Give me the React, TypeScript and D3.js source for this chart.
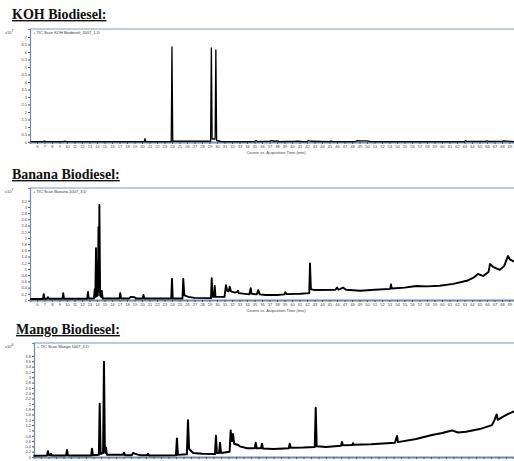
import { useRef, useEffect } from 'react';
import * as d3 from 'd3';

const W = 514;
const H = 461;

// retention time (min), counts (x10^7 / x10^6)
const kohTrace: [number, number][] = [
  [5.1, 0.02], [6.8, 0.02], [7.0, 0.06], [7.2, 0.02], [9.5, 0.02], [9.7, 0.06], [9.9, 0.02],
  [20.3, 0.02], [20.4, 0.22], [20.5, 0.02], [23.9, 0.02], [24.0, 6.33], [24.1, 0.05],
  [29.15, 0.05], [29.25, 6.27], [29.35, 0.2], [29.75, 0.2], [29.85, 6.13], [29.95, 0.1],
  [30.4, 0.05], [30.6, 0.03], [35.0, 0.03], [35.2, 0.1], [35.4, 0.03], [37.0, 0.05],
  [37.3, 0.09], [37.6, 0.05], [38.1, 0.08], [38.3, 0.03], [40.5, 0.05], [40.9, 0.06],
  [41.4, 0.03], [42.0, 0.03], [42.2, 0.1], [42.5, 0.05], [45.0, 0.03], [45.2, 0.07],
  [45.4, 0.03], [48.5, 0.03], [48.7, 0.09], [49.2, 0.07], [50.0, 0.08], [50.5, 0.03],
  [63.0, 0.03], [63.1, 0.09], [63.3, 0.04], [65.8, 0.04], [66.0, 0.08], [66.2, 0.04],
  [68.0, 0.04], [68.2, 0.07], [69.6, 0.03],
];

const bananaTrace: [number, number][] = [
  [5.1, 0.03], [6.8, 0.03], [6.9, 0.19], [7.0, 0.04], [7.35, 0.04], [7.45, 0.09], [7.6, 0.04],
  [9.4, 0.04], [9.5, 0.22], [9.6, 0.04], [12.7, 0.04], [12.8, 0.26], [12.9, 0.05],
  [13.6, 0.05], [13.7, 0.35], [13.78, 0.1], [13.87, 1.67], [13.95, 0.12], [14.12, 0.15],
  [14.2, 2.35], [14.26, 0.3], [14.32, 3.06], [14.42, 0.15], [14.56, 0.1], [14.65, 0.29],
  [14.75, 0.05], [17.0, 0.05], [17.1, 0.22], [17.2, 0.05], [18.3, 0.05], [18.5, 0.1],
  [19.0, 0.09], [19.2, 0.05], [20.1, 0.05], [20.2, 0.16], [20.3, 0.05], [23.9, 0.05],
  [24.0, 0.68], [24.1, 0.05], [25.4, 0.05], [25.5, 0.68], [25.65, 0.15], [26.2, 0.1],
  [27.0, 0.07], [29.2, 0.06], [29.3, 0.7], [29.4, 0.1], [29.6, 0.1], [29.7, 0.45],
  [29.8, 0.1], [31.0, 0.1], [31.2, 0.48], [31.35, 0.3], [31.55, 0.28], [31.7, 0.43],
  [31.85, 0.28], [32.4, 0.24], [32.7, 0.26], [32.8, 0.3], [32.9, 0.22], [34.3, 0.18],
  [34.5, 0.38], [34.6, 0.2], [35.3, 0.18], [35.5, 0.32], [35.7, 0.18], [36.5, 0.16],
  [38.0, 0.16], [39.0, 0.18], [39.1, 0.25], [39.3, 0.19], [41.1, 0.2], [42.3, 0.22],
  [42.4, 1.18], [42.52, 0.35], [43.0, 0.32], [45.8, 0.33], [46.0, 0.4], [46.2, 0.33],
  [46.8, 0.4], [47.2, 0.33], [49.1, 0.3], [51.0, 0.33], [53.1, 0.36], [53.2, 0.5],
  [53.3, 0.37], [55.0, 0.4], [56.6, 0.45], [58.0, 0.44], [59.7, 0.46], [61.5, 0.52],
  [63.3, 0.62], [64.2, 0.72], [64.8, 0.84], [65.5, 0.77], [66.2, 0.9], [66.4, 1.16],
  [66.8, 1.07], [67.7, 0.97], [68.3, 1.1], [68.8, 1.42], [69.1, 1.3], [69.6, 1.24],
];

const mangoTrace: [number, number][] = [
  [5.0, 0.05], [6.8, 0.06], [6.93, 0.22], [7.05, 0.07], [7.25, 0.07], [7.33, 0.12],
  [7.45, 0.06], [9.35, 0.06], [9.47, 0.26], [9.6, 0.06], [12.7, 0.06], [12.8, 0.31],
  [12.92, 0.07], [13.72, 0.08], [13.83, 2.0], [13.95, 0.12], [14.28, 0.15], [14.4, 3.58],
  [14.52, 0.2], [14.6, 0.15], [14.67, 0.35], [14.8, 0.08], [16.95, 0.08], [17.07, 0.16],
  [17.2, 0.07], [18.1, 0.07], [18.27, 0.15], [18.8, 0.1], [19.2, 0.07], [20.15, 0.07],
  [20.27, 0.12], [20.4, 0.06], [24.0, 0.07], [24.13, 0.7], [24.25, 0.08], [25.45, 0.1],
  [25.6, 1.38], [25.75, 0.3], [26.3, 0.15], [27.5, 0.12], [29.2, 0.11], [29.33, 0.8],
  [29.45, 0.15], [29.75, 0.15], [29.87, 0.54], [30.0, 0.15], [31.15, 0.2], [31.29, 1.0],
  [31.42, 0.6], [31.5, 0.6], [31.6, 0.87], [31.75, 0.5], [32.3, 0.45], [32.5, 0.4],
  [33.5, 0.33], [34.5, 0.33], [34.63, 0.54], [34.75, 0.33], [35.35, 0.33], [35.47, 0.5],
  [35.6, 0.32], [37.0, 0.3], [39.05, 0.33], [39.16, 0.5], [39.3, 0.35], [41.0, 0.36],
  [42.5, 0.38], [42.63, 1.85], [42.76, 0.4], [44.0, 0.38], [46.0, 0.42], [46.13, 0.56],
  [46.25, 0.44], [47.5, 0.45], [47.6, 0.52], [47.7, 0.46], [50.0, 0.48], [53.2, 0.54],
  [53.47, 0.79], [53.6, 0.56], [56.0, 0.68], [58.13, 0.83], [59.5, 0.9], [60.8, 1.0],
  [61.6, 0.92], [62.67, 0.95], [64.5, 1.05], [66.13, 1.2], [66.4, 1.35], [66.76, 1.6],
  [66.9, 1.4], [67.5, 1.5], [68.3, 1.62], [68.93, 1.7], [69.6, 1.75],
];

const kohYTicks = [0, 0.5, 1, 1.5, 2, 2.5, 3, 3.5, 4, 4.5, 5, 5.5, 6, 6.5, 7];
const bananaYTicks = [0, 0.2, 0.4, 0.6, 0.8, 1, 1.2, 1.4, 1.6, 1.8, 2, 2.2, 2.4, 2.6, 2.8, 3, 3.2];
const mangoYTicks = [0, 0.2, 0.4, 0.6, 0.8, 1, 1.2, 1.4, 1.6, 1.8, 2, 2.2, 2.4, 2.6, 2.8, 3, 3.2, 3.4, 3.6, 3.8];
const timeTicks = d3.range(6, 70);

const panels = [
  {
    title: 'KOH Biodiesel:', titleX: 12, titleY: 19,
    legend: 'TIC Scan KOH Biodiesel_1007_1.D', exp: '7',
    left: 30, top: 29, bottom: 142, yMax: 7.53,
    yTicks: kohYTicks, trace: kohTrace, width: 1.3, xLabels: true,
  },
  {
    title: 'Banana Biodiesel:', titleX: 12, titleY: 179,
    legend: 'TIC Scan Banana 1007_3.D', exp: '7',
    left: 30, top: 188, bottom: 300, yMax: 3.61,
    yTicks: bananaYTicks, trace: bananaTrace, width: 1.9, xLabels: true,
  },
  {
    // bottom of this panel is cut off by the page edge
    title: 'Mango Biodiesel:', titleX: 16, titleY: 334,
    legend: 'TIC Scan Mango 1007_3.D', exp: '6',
    left: 34, top: 343, bottom: 457, yMax: 4.29,
    yTicks: mangoYTicks, trace: mangoTrace, width: 2, xLabels: false,
  },
];

export default function App() {
  const svgRef = useRef<SVGSVGElement>(null);

  useEffect(() => {
    const svg = d3.select(svgRef.current);
    svg.selectAll('*').remove();
    svg.append('rect').attr('width', W).attr('height', H).attr('fill', '#fff');

    panels.forEach(p => {
      const g = svg.append('g');
      const x = d3.scaleLinear().domain([5.07, 69.6]).range([p.left, p.left + 484]);
      const y = d3.scaleLinear().domain([0, p.yMax]).range([p.bottom, p.top]);

      g.append('text')
        .attr('x', p.titleX)
        .attr('y', p.titleY)
        .attr('font-family', '"Liberation Serif", "Times New Roman", serif')
        .attr('font-weight', 'bold')
        .attr('font-size', 14)
        .attr('text-decoration', 'underline')
        .attr('fill', '#111')
        .text(p.title);

      // frame
      g.append('line')
        .attr('x1', p.left).attr('x2', W)
        .attr('y1', p.top).attr('y2', p.top)
        .attr('stroke', '#a9bdd3').attr('stroke-width', 1.5);

      const yAxis = g.append('g')
        .attr('transform', `translate(${p.left},0)`)
        .call(d3.axisLeft(y).tickValues(p.yTicks).tickSize(2).tickPadding(1).tickFormat(d3.format('')));
      yAxis.select('.domain').attr('stroke', '#6d8cb0').attr('stroke-width', 1.2);
      yAxis.selectAll('.tick line').attr('stroke', '#555');
      yAxis.selectAll('text').attr('font-size', 4).attr('font-family', 'Arial, sans-serif').attr('fill', '#444');

      const xAxis = g.append('g')
        .attr('transform', `translate(0,${p.bottom})`)
        .call(
          d3.axisBottom(x)
            .tickValues(timeTicks)
            .tickSize(2)
            .tickPadding(1)
            .tickFormat(p.xLabels ? d3.format('d') : () => ''),
        );
      xAxis.select('.domain').attr('stroke', '#6d8cb0').attr('stroke-width', 1.8);
      xAxis.selectAll('.tick line').attr('stroke', '#555');
      xAxis.selectAll('text').attr('font-size', 4).attr('font-family', 'Arial, sans-serif').attr('fill', '#444');

      if (p.xLabels) {
        g.append('text')
          .attr('x', 276).attr('y', p.bottom + 12)
          .attr('text-anchor', 'middle')
          .attr('font-size', 4).attr('font-family', 'Arial, sans-serif').attr('fill', '#444')
          .text('Counts vs. Acquisition Time (min)');
      }

      const exp = g.append('text')
        .attr('x', 5).attr('y', p.top + 5)
        .attr('font-size', 4).attr('font-family', 'Arial, sans-serif').attr('fill', '#444');
      exp.append('tspan').text('x10');
      exp.append('tspan').attr('dy', -2).attr('font-size', 3.5).text(p.exp);

      g.append('text')
        .attr('x', p.left + 3).attr('y', p.top + 5)
        .attr('font-size', 4).attr('font-family', 'Arial, sans-serif').attr('fill', '#333')
        .text('+ ' + p.legend);

      const line = d3.line<[number, number]>()
        .x(d => x(d[0]))
        .y(d => y(d[1]));

      g.append('path')
        .datum(p.trace)
        .attr('d', line)
        .attr('fill', 'none')
        .attr('stroke', '#000')
        .attr('stroke-width', p.width)
        .attr('stroke-linejoin', 'round');
    });
  }, []);

  return (
    <svg
      ref={svgRef}
      width={W}
      height={H}
      style={{ position: 'absolute', left: 0, top: 0 }}
    />
  );
}
